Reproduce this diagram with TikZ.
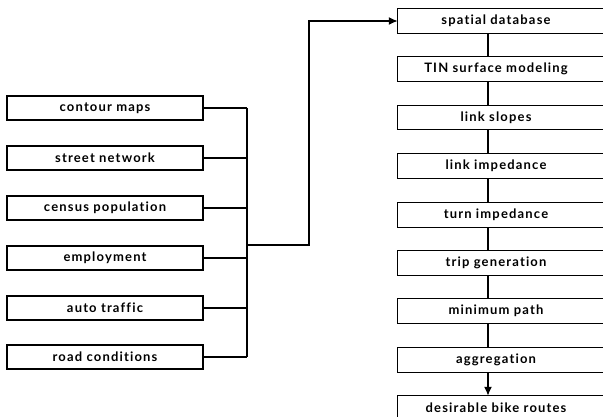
\documentclass[tikz,border=0pt]{standalone}
\usepackage{fontspec}
\setmainfont[LetterSpace=9,Ligatures=NoCommon]{Lato}
\usetikzlibrary{arrows.meta,calc}
\begin{document}
\begin{tikzpicture}[x=1pt,y=-1pt,
  lbox/.style={draw,line width=1.2pt,minimum width=196pt,minimum height=24pt,inner sep=0pt,font=\fontsize{13}{14}\selectfont\bfseries},
  rbox/.style={minimum width=196pt,minimum height=24pt,inner sep=0pt,font=\fontsize{13}{14}\selectfont\bfseries},
  conn/.style={line width=1.5pt},
  arr/.style={conn,-{Latex[length=9pt,width=8pt]}}]
\useasboundingbox (0,0) rectangle (603,417);
\clip (0,0) rectangle (603,417);
% left column
\node[lbox] (c1) at (105,108) {contour maps};
\node[lbox] (c2) at (105,158) {street network};
\node[lbox] (c3) at (105,208) {census population};
\node[lbox] (c4) at (105,258) {employment};
\node[lbox] (c5) at (105,308) {auto traffic};
\node[lbox] (c6) at (105,357) {road conditions};
\coordinate (bus) at (247,0);
\coordinate (up) at (309,245);
% right column
\node[rbox] (r1) at (496,21) {spatial database};
\node[rbox] (r2) at (496,69) {TIN surface modeling};
\node[rbox] (r3) at (496,117.5) {link slopes};
\node[rbox] (r4) at (496,166) {link impedance};
\node[rbox] (r5) at (496,215) {turn impedance};
\node[rbox] (r6) at (496,263) {trip generation};
\node[rbox] (r7) at (496,311) {minimum path};
\node[rbox] (r8) at (496,360) {aggregation};
\node[rbox] (r9) at (496,408) {desirable bike routes};
\foreach \n in {r1,r2,r3,r4,r5,r6,r7,r8,r9}
  \draw[line width=1.2pt] (\n.north west) rectangle ($(\n.south east)+(20,0)$);
\coordinate (xl) at (488,0);
% connectors left
\foreach \n in {c1,c2,c3,c4,c5,c6}
  \draw[conn] (\n.east) -- (\n.east -| bus);
\draw[conn] (c1.east -| bus) -- (c6.east -| bus);
\draw[arr] (bus |- up) -- (up) |- (r1.west);
% right chain
\draw[conn] (r1.south -| xl) -- (r2.north -| xl);
\draw[conn] (r2.south -| xl) -- (r3.north -| xl);
\draw[conn] (r3.south -| xl) -- (r4.north -| xl);
\draw[conn] (r4.south -| xl) -- (r5.north -| xl);
\draw[conn] (r5.south -| xl) -- (r6.north -| xl);
\draw[conn] (r6.south -| xl) -- (r7.north -| xl);
\draw[conn] (r7.south -| xl) -- (r8.north -| xl);
\draw[arr] (r8.south -| xl) -- (r9.north -| xl);
\end{tikzpicture}
\end{document}
